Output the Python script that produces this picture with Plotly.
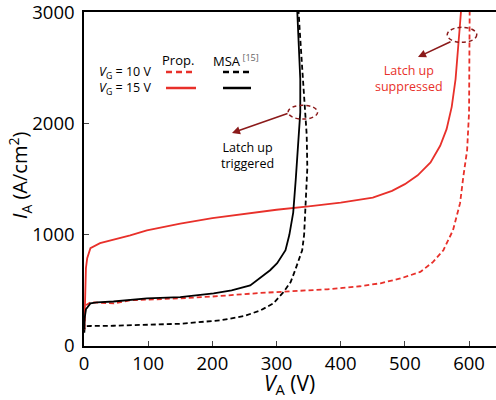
import plotly.graph_objects as go

# ---- data (V_A in V, I_A in A/cm^2) ----
prop15_v = [0.5, 1, 2, 3, 5, 10, 25, 46, 72, 98, 150, 200, 250, 300, 350, 400, 450, 480, 500, 520, 540, 555, 565, 573, 579, 583, 586, 588]
prop15_i = [150, 300, 550, 700, 790, 880, 925, 955, 995, 1040, 1100, 1150, 1190, 1225, 1255, 1290, 1335, 1395, 1455, 1535, 1650, 1800, 1950, 2150, 2400, 2650, 2900, 3050]

prop10_v = [0.5, 1, 2, 4, 10, 46, 72, 150, 200, 275, 326, 379, 430, 462, 493, 524, 544, 560, 575, 586, 591, 597, 600, 601, 601]
prop10_i = [150, 250, 330, 370, 393, 383, 411, 429, 445, 477, 495, 510, 537, 564, 607, 666, 756, 861, 1041, 1284, 1519, 1762, 2100, 2600, 3050]

msa15_v = [0.5, 1, 3, 10, 20, 46, 98, 150, 202, 230, 259, 275, 290, 301, 311, 314, 320, 326, 330, 334, 337, 337, 335, 333, 332]
msa15_i = [150, 248, 330, 383, 393, 400, 429, 440, 474, 500, 545, 618, 681, 744, 834, 861, 1000, 1200, 1500, 1800, 2100, 2400, 2700, 2950, 3050]

msa10_v = [0.5, 1, 3, 10, 46, 100, 150, 213, 250, 275, 295, 311, 322, 329, 334, 340, 343, 346, 348, 347, 345, 340, 336, 334]
msa10_i = [120, 170, 178, 180, 182, 190, 200, 231, 270, 320, 383, 486, 575, 681, 771, 861, 1000, 1300, 1600, 1900, 2050, 2500, 2850, 3050]

x_ticks = [0, 100, 200, 300, 400, 500, 600]
y_ticks = [0, 1000, 2000, 3000]

RED = "#e8302a"
DARKRED = "#8b1a1a"
FONT = "Open Sans"

W, H = 496, 400
L, R, T, B = 84, 0, 12, 54
PW, PH = W - L - R, H - T - B


def px(x):
    return (x - L) / PW


def py(y):
    return (H - B - y) / PH


fig = go.Figure()
fig.add_trace(go.Scatter(x=msa10_v, y=msa10_i, mode="lines",
                         line=dict(color="black", width=1.8, dash="5px,3px")))
fig.add_trace(go.Scatter(x=prop10_v, y=prop10_i, mode="lines",
                         line=dict(color=RED, width=1.8, dash="5px,3px")))
fig.add_trace(go.Scatter(x=prop15_v, y=prop15_i, mode="lines",
                         line=dict(color=RED, width=1.8)))
fig.add_trace(go.Scatter(x=msa15_v, y=msa15_i, mode="lines",
                         line=dict(color="black", width=1.8)))

shapes = []
# dashed ellipses marking latch-up points
shapes.append(dict(type="circle", xref="x", yref="y", x0=318, x1=364, y0=2040, y1=2165,
                   line=dict(color=DARKRED, width=1.5, dash="4px,3px")))
shapes.append(dict(type="circle", xref="x", yref="y", x0=566, x1=612, y0=2730, y1=2865,
                   line=dict(color=DARKRED, width=1.5, dash="4px,3px")))
# legend sample lines
shapes.append(dict(type="line", xref="paper", yref="paper", x0=px(166), x1=px(194), y0=py(72), y1=py(72),
                   line=dict(color=RED, width=2.5, dash="6px,4px")))
shapes.append(dict(type="line", xref="paper", yref="paper", x0=px(166), x1=px(196), y0=py(88), y1=py(88),
                   line=dict(color=RED, width=2.5)))
shapes.append(dict(type="line", xref="paper", yref="paper", x0=px(223), x1=px(251), y0=py(72), y1=py(72),
                   line=dict(color="black", width=2.5, dash="6px,4px")))
shapes.append(dict(type="line", xref="paper", yref="paper", x0=px(223), x1=px(251), y0=py(88), y1=py(88),
                   line=dict(color="black", width=2.5)))

ann = []


def txt(x, y, s, size=13, color="black", xanchor="center"):
    ann.append(dict(xref="paper", yref="paper", x=px(x), y=py(y), text=s, showarrow=False,
                    font=dict(family=FONT, size=size, color=color), xanchor=xanchor, yanchor="middle"))


txt(178, 60, "Prop.")
txt(211, 60, "MSA<sup><span style='color:#666'> [15]</span></sup>", xanchor="left")
txt(153, 72, "<i>V</i><sub>G</sub> = 10 V", size=12.5, xanchor="right")
txt(153, 88, "<i>V</i><sub>G</sub> = 15 V", size=12.5, xanchor="right")
txt(247, 155, "Latch up<br>triggered", size=12.5)
txt(409, 78, "Latch up<br>suppressed", size=12.5, color=RED)
# axis titles
txt(289, 384, "<i>V</i><sub>A</sub> (V)", size=21)
ann.append(dict(xref="paper", yref="paper", x=px(20), y=py(176), text="<i>I</i><sub>A</sub> (A/cm<sup>2</sup>)",
                showarrow=False, textangle=-90, font=dict(family=FONT, size=20, color="black"),
                xanchor="center", yanchor="middle"))
# arrows
ann.append(dict(xref="paper", yref="paper", x=px(232), y=py(133), text="", showarrow=True,
                ax=57, ay=-20, arrowhead=2, arrowsize=1, arrowwidth=1.6, arrowcolor=DARKRED))
ann.append(dict(xref="paper", yref="paper", x=px(418), y=py(57), text="", showarrow=True,
                ax=34, ay=-16, arrowhead=2, arrowsize=1, arrowwidth=1.6, arrowcolor=DARKRED))

fig.update_layout(
    width=W, height=H, margin=dict(l=L, r=R, t=T, b=B),
    paper_bgcolor="white", plot_bgcolor="white", showlegend=False,
    shapes=shapes, annotations=ann,
    font=dict(family=FONT, size=18, color="black"),
)
fig.update_xaxes(range=[0, 642], tickvals=x_ticks, ticks="inside", ticklen=5, tickwidth=1,
                 showline=True, linecolor="black", linewidth=1.5, mirror=True, showgrid=False,
                 zeroline=False, tickfont=dict(family=FONT, size=18.5))
fig.update_yaxes(range=[0, 3003], tickvals=y_ticks, ticks="inside", ticklen=5, tickwidth=1,
                 showline=True, linecolor="black", linewidth=1.5, mirror=False, showgrid=False,
                 zeroline=False, tickfont=dict(family=FONT, size=18.5), ticklabelstandoff=4,
                 ticklabeloverflow="allow")

fig.write_html("out.html", config={"displayModeBar": False},
               post_script="document.body.style.margin='0';document.body.style.overflow='hidden';")
